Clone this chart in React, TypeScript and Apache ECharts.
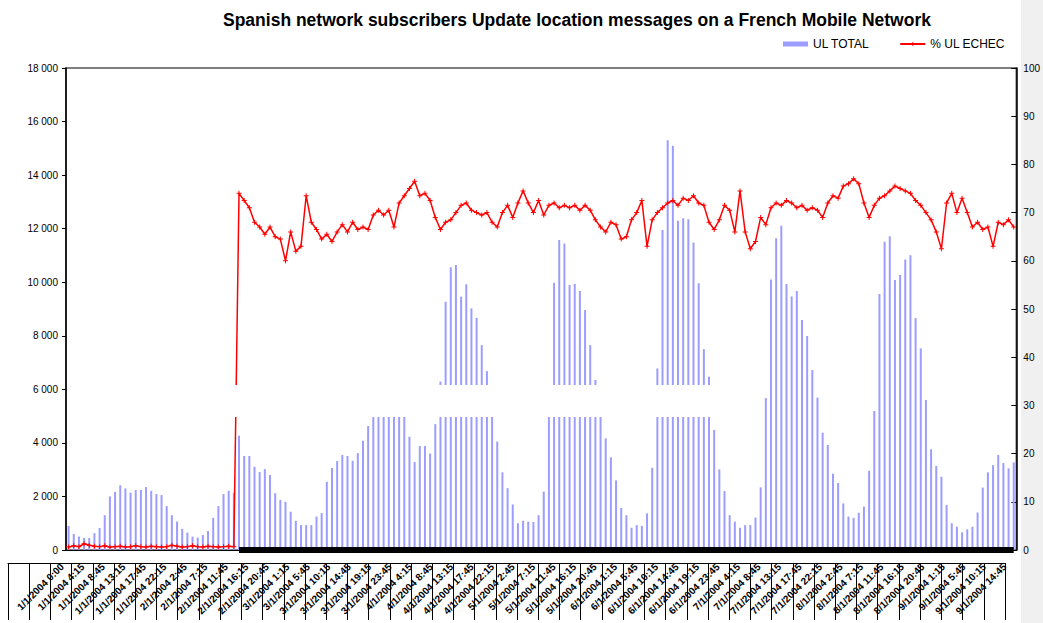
import React, { useEffect, useRef } from 'react';
import * as echarts from 'echarts';

const TITLE = 'Spanish network subscribers Update location messages on a French Mobile Network';

const X_LABELS = [
  '1/1/2004 0:00', '1/1/2004 4:15', '1/1/2004 8:45', '1/1/2004 13:15', '1/1/2004 17:45', '1/1/2004 22:15',
  '2/1/2004 2:45', '2/1/2004 7:15', '2/1/2004 11:45', '2/1/2004 16:15', '2/1/2004 20:45',
  '3/1/2004 1:15', '3/1/2004 5:45', '3/1/2004 10:15', '3/1/2004 14:45', '3/1/2004 19:15', '3/1/2004 23:45',
  '4/1/2004 4:15', '4/1/2004 8:45', '4/1/2004 13:15', '4/1/2004 17:45', '4/1/2004 22:15',
  '5/1/2004 2:45', '5/1/2004 7:15', '5/1/2004 11:45', '5/1/2004 16:15', '5/1/2004 20:45',
  '6/1/2004 1:15', '6/1/2004 5:45', '6/1/2004 10:15', '6/1/2004 14:45', '6/1/2004 19:15', '6/1/2004 23:45',
  '7/1/2004 4:15', '7/1/2004 8:45', '7/1/2004 13:15', '7/1/2004 17:45', '7/1/2004 22:15',
  '8/1/2004 2:45', '8/1/2004 7:15', '8/1/2004 11:45', '8/1/2004 16:15', '8/1/2004 20:45',
  '9/1/2004 1:15', '9/1/2004 5:45', '9/1/2004 10:15', '9/1/2004 14:45',
];

const UL_TOTAL = [
  900, 600, 500, 450, 450, 630, 820, 1300, 2000, 2170,
  2420, 2300, 2140, 2240, 2240, 2350, 2210, 2090, 2050, 1640,
  1300, 1060, 790, 650, 500, 460, 560, 710, 1200, 1640,
  2090, 2210, 2140, 4270, 3510, 3510, 3110, 2910, 3020, 2800,
  2120, 1870, 1800, 1430, 1090, 930, 930, 930, 1250, 1380,
  2550, 3060, 3320, 3550, 3510, 3330, 3620, 4080, 4630, 5300,
  5500, 5600, 5700, 5500, 5600, 5400, 4230, 3290, 3880, 3880,
  3600, 4700, 6290, 9270, 10560, 10640, 9460, 9920, 9020, 8670,
  7650, 6680, 5600, 4050, 2900, 2310, 1700, 1000, 1090, 1060,
  1050, 1300, 2180, 5500, 9980, 11580, 11450, 9900, 9930, 9670,
  8960, 7650, 6350, 5300, 4170, 3460, 2600, 1570, 1300, 830,
  930, 900, 1370, 3070, 6780, 11950, 15300, 15100, 12300, 12390,
  12350, 11480, 9960, 7500, 6470, 4480, 3010, 2200, 1300, 1060,
  830, 930, 930, 1210, 2340, 5670, 10100, 11640, 12110, 9930,
  9470, 9670, 8590, 7990, 6720, 5690, 4380, 3920, 2850, 2500,
  1740, 1250, 1200, 1390, 1620, 2960, 5190, 9560, 11510, 11720,
  10080, 10270, 10850, 11010, 8660, 7530, 5600, 3760, 3140, 2740,
  1680, 1000, 870, 660, 770, 870, 1400, 2330, 2900, 3170,
  3550, 3250, 3050, 3270,
];

const UL_ECHEC_PCT = [
  0.6, 0.9, 0.7, 1.3, 1.0, 0.8, 0.7, 0.9, 0.6, 0.7,
  0.8, 0.6, 0.7, 0.9, 0.7, 0.6, 0.8, 0.7, 0.6, 0.7,
  1.0, 0.8, 0.6, 0.7, 0.9, 0.7, 0.6, 0.8, 0.7, 0.6,
  0.7, 0.8, 0.7, 74, 72.5, 71, 68, 67, 65.5, 67,
  65, 64.5, 60, 66, 62, 63, 73.5, 68, 66.5, 64.5,
  65.5, 64, 66, 67.5, 66, 68, 66.5, 67, 66.5, 69.5,
  70.5, 69.5, 70.5, 67, 72, 73.5, 75, 76.5, 73.5, 74,
  72.5, 69, 66.5, 68, 68.5, 70, 71.5, 72, 70.5, 70,
  69.5, 70, 68, 67, 70, 71.5, 69, 72, 74.5, 72,
  70, 72.5, 69.5, 71.5, 72, 71, 71.5, 71, 71.5, 70.5,
  71.5, 70.5, 68.5, 67, 66, 68, 67.5, 64.5, 65, 68.5,
  70, 72.5, 63, 68.5, 70, 71, 72, 72.5, 71.5, 73,
  72.5, 73.5, 72, 71.5, 68, 66.5, 68.5, 71.5, 70.5, 66,
  74.5, 66, 62.5, 64, 69, 67.5, 71, 72, 71.5, 72.5,
  72, 71, 71.5, 70.5, 71, 70.5, 69, 72, 73.5, 73,
  75.5, 76, 77, 76, 72, 69, 71.5, 73, 73.5, 74.5,
  75.5, 75, 74.5, 74, 72.5, 71.5, 70, 68.5, 66, 62.5,
  72, 74, 70, 73, 70, 67, 68, 66.5, 67, 63,
  68, 67.5, 68.5, 67,
];

// second (black) series sits at zero from the point where % UL ECHEC starts
const ECHEC_START = 33;
const UL_ECHEC_BASE = UL_TOTAL.map((_, i) => (i >= ECHEC_START ? 0 : null));

const FONT = '"Liberation Sans", Arial, sans-serif';

const fmtThousands = (v: number) =>
  v >= 1000 ? `${Math.floor(v / 1000)} ${String(v % 1000).padStart(3, '0')}` : String(v);

export default function App() {
  const ref = useRef<HTMLDivElement>(null);
  useEffect(() => {
    const chart = echarts.init(ref.current!, null, { renderer: 'svg' });
    const slots = UL_TOTAL.map((_, i) => String(i));
    const plus = 'path://M2,0h1v2h2v1h-2v2h-1v-2h-2v-1h2z';
    chart.setOption({
      animation: false,
      textStyle: { fontFamily: FONT },
      title: {
        text: TITLE,
        left: 218,
        top: 6,
        textStyle: { fontSize: 17.5, fontWeight: 'bold', color: '#000', fontFamily: FONT },
      },
      legend: {
        data: [{ name: 'UL TOTAL', icon: 'rect' }, { name: '% UL ECHEC' }],
        left: 783,
        top: 38,
        padding: 0,
        itemWidth: 25,
        itemHeight: 5,
        itemGap: 30,
        textStyle: { fontSize: 12, color: '#000', fontFamily: FONT },
      },
      graphic: [
        { type: 'rect', shape: { x: 1021, y: 0, width: 22, height: 623 }, style: { fill: '#f0f0f0' }, z: -10, silent: true },
        { type: 'rect', shape: { x: 105, y: 385, width: 620, height: 32 }, style: { fill: '#ffffff' }, z: 100, silent: true },
      ],
      grid: [
        { left: 66, right: 26, top: 68, bottom: 73, show: true, borderColor: '#555', borderWidth: 1.5 },
        { left: 8, width: 997, top: 553, height: 10 },
        { left: 52, width: 963, top: 553, height: 10 },
      ],
      xAxis: [
        {
          type: 'category', gridIndex: 0, data: slots, boundaryGap: true,
          axisLine: { show: true, lineStyle: { color: '#000', width: 1 } },
          axisTick: { show: false }, axisLabel: { show: false }, splitLine: { show: false },
        },
        {
          type: 'category', gridIndex: 1, data: X_LABELS, boundaryGap: true,
          axisLine: { show: true, lineStyle: { color: '#000', width: 1 } },
          axisTick: { show: true, interval: 0, length: 57, lineStyle: { color: '#000' } },
          axisLabel: { show: false }, splitLine: { show: false },
        },
        {
          type: 'category', gridIndex: 2, data: X_LABELS, boundaryGap: true,
          axisLine: { show: false }, axisTick: { show: false },
          axisLabel: { interval: 0, rotate: 45, margin: 2, fontSize: 10, fontWeight: 'bold', color: '#000', fontFamily: FONT },
        },
      ],
      yAxis: [
        {
          type: 'value', gridIndex: 0, min: 0, max: 18000, interval: 2000,
          axisLine: { show: true, lineStyle: { color: '#000', width: 1.5 } },
          axisTick: { show: true, length: 4, lineStyle: { color: '#000' } },
          splitLine: { show: false },
          axisLabel: { formatter: fmtThousands, fontSize: 10, color: '#000', margin: 8, fontFamily: FONT },
        },
        {
          type: 'value', gridIndex: 0, position: 'right', min: 0, max: 100, interval: 10,
          axisLine: { show: true, lineStyle: { color: '#000', width: 1.5 } },
          axisTick: { show: true, inside: true, length: 5, lineStyle: { color: '#000' } },
          splitLine: { show: false },
          axisLabel: { fontSize: 10, color: '#000', margin: 7, fontFamily: FONT },
        },
        { type: 'value', gridIndex: 1, show: false },
        { type: 'value', gridIndex: 2, show: false },
      ],
      series: [
        {
          name: 'UL TOTAL', type: 'bar', xAxisIndex: 0, yAxisIndex: 0, data: UL_TOTAL,
          barWidth: 2, itemStyle: { color: '#9d9dff' },
        },
        {
          name: '% UL ECHEC', type: 'line', xAxisIndex: 0, yAxisIndex: 1, data: UL_ECHEC_PCT,
          symbol: plus, symbolSize: 5, showSymbol: true, showAllSymbol: true, clip: false,
          lineStyle: { color: '#ff0000', width: 1.5 }, itemStyle: { color: '#ff0000' }, z: 3,
        },
        {
          name: 'UL ECHEC', type: 'line', xAxisIndex: 0, yAxisIndex: 1, data: UL_ECHEC_BASE,
          symbol: 'none', clip: false, lineStyle: { color: '#000', width: 6 }, z: 4,
        },
      ],
    });
    return () => chart.dispose();
  }, []);
  return (
    <div
      ref={ref}
      style={{ position: 'fixed', left: 0, top: 0, width: 1043, height: 623, background: '#fff' }}
    />
  );
}
